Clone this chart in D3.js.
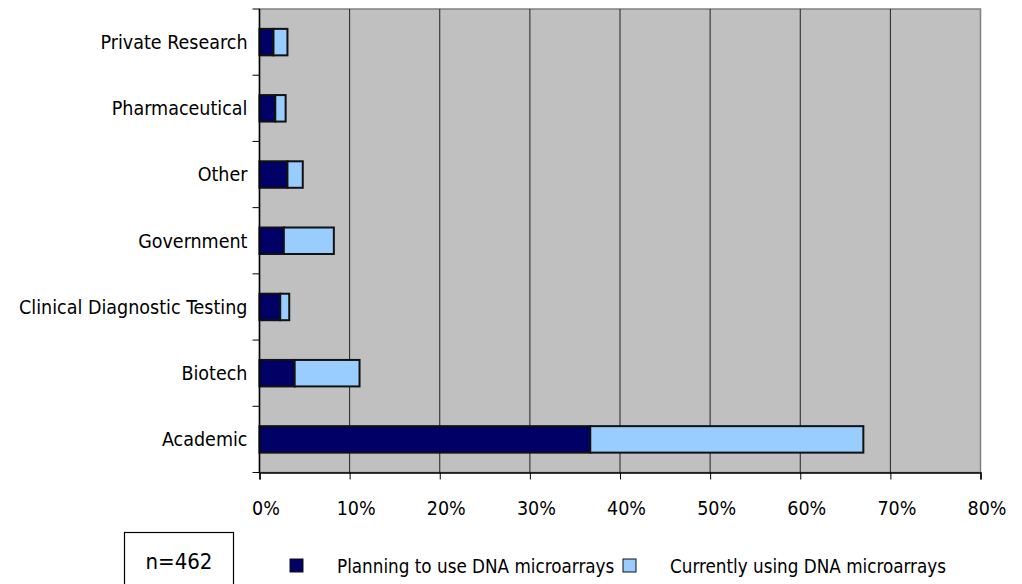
<!DOCTYPE html>
<html>
<head>
<meta charset="utf-8">
<script src="https://cdn.jsdelivr.net/npm/d3@7"></script>
<style>
  body { margin: 0; background: #fff; }
  svg { display: block; }
  text { font-family: "DejaVu Sans Condensed", "DejaVu Sans", sans-serif; fill: #000; }
</style>
</head>
<body>
<div id="chart"></div>
<script>
// categories, bottom to top as in the picture
const categories = ["Academic", "Biotech", "Clinical Diagnostic Testing", "Government", "Other", "Pharmaceutical", "Private Research"];
const planning = [36.7, 3.9, 2.3, 2.7, 3.1, 1.75, 1.55];
const currently = [30.3, 7.2, 1.0, 5.55, 1.7, 1.15, 1.55];
const seriesNames = ["Planning to use DNA microarrays", "Currently using DNA microarrays"];
const seriesColors = ["#000066", "#99CCFF"];
const xTicks = [0, 10, 20, 30, 40, 50, 60, 70, 80];
const sampleLabel = "n=462";

const width = 1022, height = 584;
const plotLeft = 259.5, plotRight = 980.5, plotTop = 9, plotBottom = 472.5;
const fontSize = "19.5px";

const svg = d3.select("#chart").append("svg")
    .attr("width", width)
    .attr("height", height);

let xScale = d3.scaleLinear().domain([0, 80]).range([plotLeft, plotRight]);
let yScale = d3.scaleBand().domain(categories.slice().reverse()).range([plotTop, plotBottom]).paddingInner(0.6).paddingOuter(0.3);

// plot background
svg.append("rect")
    .attr("x", plotLeft).attr("y", plotTop)
    .attr("width", plotRight - plotLeft).attr("height", plotBottom - plotTop)
    .style("fill", "#c0c0c0")
    .style("stroke", "#808080")
    .style("stroke-width", 1.5);

// gridlines
svg.append("g")
    .selectAll("line")
    .data(xTicks.slice(1, -1))
    .join("line")
    .attr("x1", d => xScale(d)).attr("x2", d => xScale(d))
    .attr("y1", plotTop).attr("y2", plotBottom)
    .style("stroke", "#222")
    .style("stroke-width", 1);

// stacked bars
let rows = categories.map((c, i) => ({ cat: c, p: planning[i], c: currently[i] }));
let stack = d3.stack().keys(["p", "c"])(rows);

svg.append("g")
    .selectAll("g")
    .data(stack)
    .join("g")
    .style("fill", (d, i) => seriesColors[i])
    .selectAll("rect")
    .data(d => d)
    .join("rect")
    .attr("x", d => xScale(d[0]))
    .attr("y", d => yScale(d.data.cat))
    .attr("width", d => xScale(d[1]) - xScale(d[0]))
    .attr("height", yScale.bandwidth())
    .style("stroke", "#111")
    .style("stroke-width", 2);

// x axis
let xAxis = svg.append("g")
    .attr("transform", "translate(0," + plotBottom + ")")
    .call(d3.axisBottom(xScale).tickValues(xTicks).tickFormat(d => d + "%").tickSize(7).tickPadding(22));
xAxis.select(".domain").style("stroke", "#000").style("stroke-width", 1.5);
xAxis.selectAll(".tick line").style("stroke", "#000");
xAxis.selectAll("text")
    .attr("dx", 6)
    .style("font-family", "DejaVu Sans Condensed")
    .style("font-size", fontSize);

// y axis: ticks sit on the category boundaries
let step = (plotBottom - plotTop) / categories.length;
svg.append("line")
    .attr("x1", plotLeft).attr("x2", plotLeft)
    .attr("y1", plotTop).attr("y2", plotBottom)
    .style("stroke", "#000").style("stroke-width", 1.5);
svg.append("g")
    .selectAll("line")
    .data(d3.range(categories.length + 1))
    .join("line")
    .attr("x1", plotLeft - 7).attr("x2", plotLeft)
    .attr("y1", d => plotTop + d * step).attr("y2", d => plotTop + d * step)
    .style("stroke", "#000");

svg.append("g")
    .selectAll("text")
    .data(categories)
    .join("text")
    .attr("x", plotLeft - 12)
    .attr("y", d => yScale(d) + yScale.bandwidth() / 2)
    .attr("dy", "0.35em")
    .attr("text-anchor", "end")
    .style("font-size", fontSize)
    .text(d => d);

// n= box
svg.append("rect")
    .attr("x", 124.5).attr("y", 532.5)
    .attr("width", 109).attr("height", 60)
    .style("fill", "#fff")
    .style("stroke", "#000")
    .style("stroke-width", 1.2);
svg.append("text")
    .attr("x", 179).attr("y", 569)
    .attr("text-anchor", "middle")
    .style("font-size", "22px")
    .text(sampleLabel);

// legend
let legendX = [290, 623];
let textX = [337, 670];
let legend = svg.append("g")
    .selectAll("g")
    .data(seriesNames)
    .join("g");
legend.append("rect")
    .attr("x", (d, i) => legendX[i]).attr("y", 559)
    .attr("width", 13).attr("height", 13)
    .style("fill", (d, i) => seriesColors[i])
    .style("stroke", "#111")
    .style("stroke-width", 1);
legend.append("text")
    .attr("x", (d, i) => textX[i]).attr("y", 573)
    .style("font-size", "18.7px")
    .text(d => d);
</script>
</body>
</html>
